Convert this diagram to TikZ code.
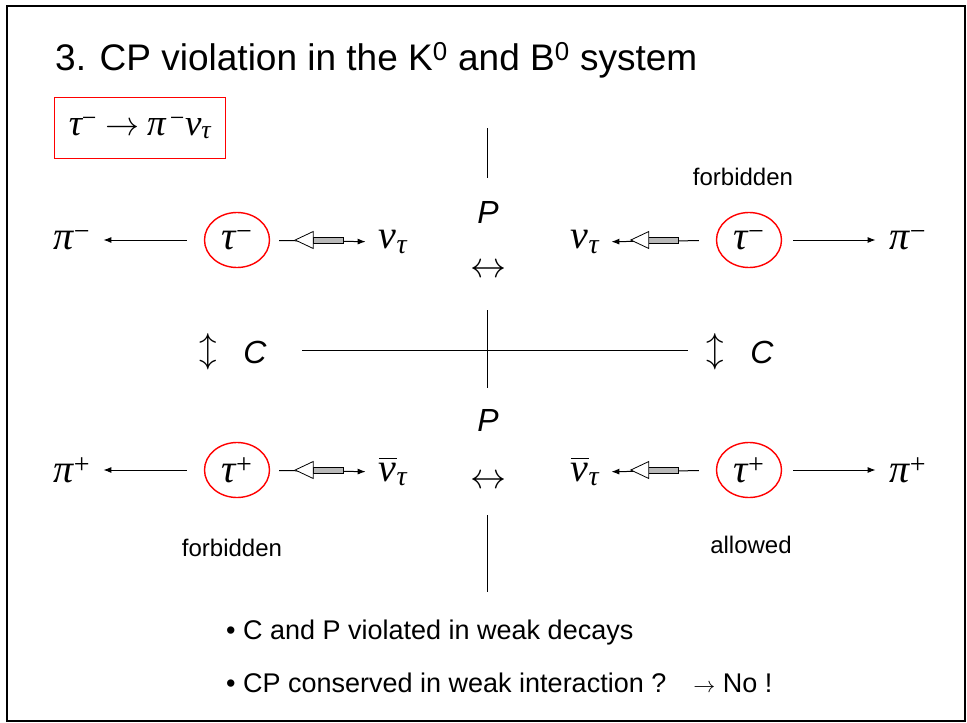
\documentclass[tikz,border=0pt]{standalone}
\usepackage{graphicx}
\usepackage{fontspec}
\setmainfont{Liberation Sans}
\newfontfamily\gk{Liberation Serif}
\usetikzlibrary{arrows.meta,positioning,calc,shapes.geometric}
\newcommand{\grk}[1]{{\gk\itshape #1}}
\newcommand{\up}[1]{\textsuperscript{\gk #1}}
\newcommand{\dn}[1]{\textsubscript{\grk{#1}}}
\newcommand{\nubar}{\leavevmode\vbox{\hrule height 1.6pt\kern 4pt\hbox{\grk{ν}}}}
\newcommand{\msym}[2]{\scalebox{#1}{\normalsize$#2$}}
% hollow spin arrow, tip at (#1) shifted by #2
\newcommand{\spin}[2]{%
 \draw[line width=0.8pt,fill=gray!55] ([xshift=#2pt]#1) ++(18,-3) rectangle ++(30,6);
 \draw[line width=0.8pt,fill=white] ([xshift=#2pt]#1) -- ++(18,-8.5) -- ++(0,17) -- cycle;}

\begin{document}
\begin{tikzpicture}[x=1pt,y=-1pt,
 ptl/.style={font=\fontsize{40}{40}\selectfont,inner sep=0pt},
 tau/.style={draw=red,line width=1.4pt,ellipse,minimum width=65pt,minimum height=55pt,inner sep=0pt,font=\fontsize{40}{40}\selectfont},
 sym/.style={inner sep=0pt},
 op/.style={font=\fontsize{32}{32}\selectfont\itshape,inner sep=0pt},
 lbl/.style={font=\fontsize{24}{24}\selectfont,inner sep=0pt},
 arr/.style={-{Latex[length=8pt,width=6pt]},line width=1pt}]
\useasboundingbox (0,0) rectangle (967,723);
\draw[line width=2pt] (7,6) rectangle (965,721);
\node[anchor=base west,inner sep=0pt,font=\fontsize{37}{37}\selectfont] (title) at (55,70) {3. CP violation in the K\textsuperscript{0} and B\textsuperscript{0} system};
\node[draw=red,line width=1.4pt,minimum width=171pt,minimum height=61pt,inner sep=2pt,font=\fontsize{37}{37}\selectfont] (decay) at (140,128) {\grk{τ}\up{−}\hspace{8pt}\msym{3.4}{\rightarrow}\hspace{8pt}\grk{π}\up{\,−}\grk{ν}\dn{τ}};
% axes
\draw[line width=1pt] (487,128) -- (487,178);
\draw[line width=1pt] (487,310) -- (487,388);
\draw[line width=1pt] (487,515) -- (487,592);
\draw[line width=1pt] (302,350) -- (688,350);
\node[op] (p1) at (488,212) {P};
\node[sym] (lr1) at (488,271) {\msym{3.6}{\leftrightarrow}};
\node[op] (p2) at (488,420) {P};
\node[sym] (lr2) at (488,482) {\msym{3.6}{\leftrightarrow}};
\node[sym] (ud1) at (208,352) {\msym{3.5}{\updownarrow}};
\node[op] (c1) at (255,352) {C};
\node[sym] (ud2) at (715,352) {\msym{3.5}{\updownarrow}};
\node[op] (c2) at (762,352) {C};
% upper row
\node[ptl] (pim1) at (72,240) {\grk{π}\up{−}};
\node[tau] (t1) at (237,240) {\grk{τ}\up{−}};
\node[ptl] (nu1) at (393,242) {\grk{ν}\dn{τ}};
\node[ptl] (nu2) at (585,242) {\grk{ν}\dn{τ}};
\node[tau] (t2) at (749,240) {\grk{τ}\up{−}};
\node[ptl] (pim2) at (908,240) {\grk{π}\up{−}};
\draw[arr,shorten <=17pt,shorten >=13pt] (t1) -- (pim1);
\draw[arr,shorten <=9pt,shorten >=13pt] (t1) -- (nu1);
\spin{t1.east}{25}
\draw[arr,shorten <=17pt,shorten >=12pt] (t2) -- (nu2);
\spin{t2.west}{-85}
\draw[arr,shorten <=11pt,shorten >=14pt] (t2) -- (pim2);
% lower row
\node[ptl] (pip1) at (72,470) {\grk{π}\up{+}};
\node[tau] (t3) at (237,470) {\grk{τ}\up{+}};
\node[ptl] (nb1) at (393,472) {\nubar\dn{τ}};
\node[ptl] (nb2) at (585,472) {\nubar\dn{τ}};
\node[tau] (t4) at (749,470) {\grk{τ}\up{+}};
\node[ptl] (pip2) at (908,470) {\grk{π}\up{+}};
\draw[arr,shorten <=17pt,shorten >=13pt] (t3) -- (pip1);
\draw[arr,shorten <=9pt,shorten >=13pt] (t3) -- (nb1);
\spin{t3.east}{25}
\draw[arr,shorten <=17pt,shorten >=12pt] (t4) -- (nb2);
\spin{t4.west}{-85}
\draw[arr,shorten <=11pt,shorten >=14pt] (t4) -- (pip2);
\node[lbl] (fb1) at (743,177) {forbidden};
\node[lbl] (fb2) at (232,548) {forbidden};
\node[lbl] (al) at (751,545) {allowed};
\node[anchor=west,inner sep=0pt,font=\fontsize{27}{27}\selectfont] (b1) at (226,633) {\textbullet\ C and P violated in weak decays};
\node[anchor=west,inner sep=0pt,font=\fontsize{27}{27}\selectfont] (b2) at (226,683) {\textbullet\ CP conserved in weak interaction ?\quad\msym{2.2}{\rightarrow} No !};
\end{tikzpicture}
\end{document}
